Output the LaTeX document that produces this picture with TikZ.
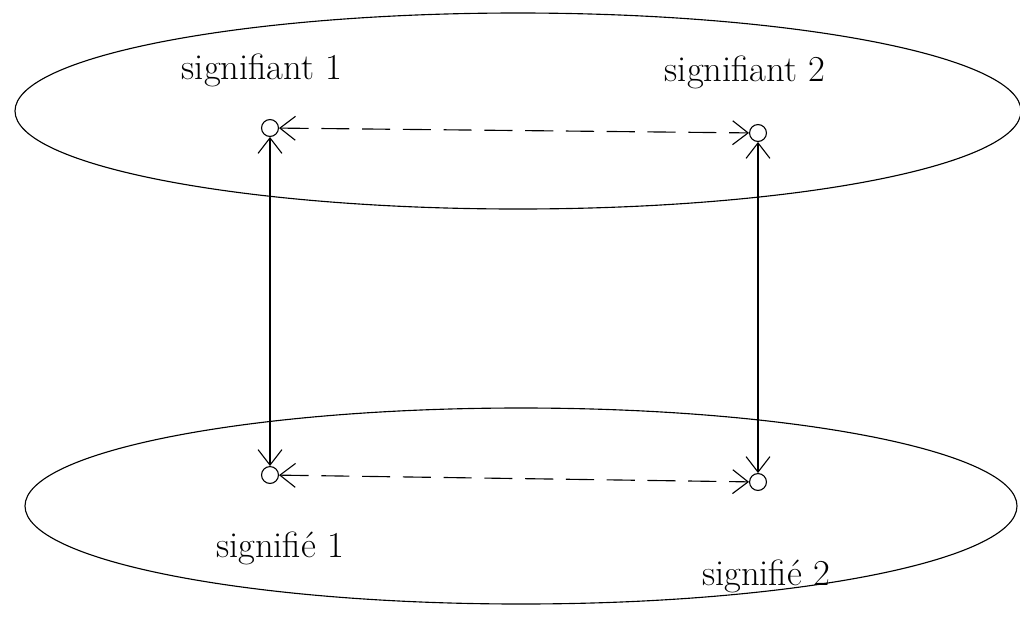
\documentclass[tikz,border=0pt]{standalone}
\usepackage{tikz}
\usetikzlibrary{arrows.meta}

\tikzset{
  pointe/.style={circle, draw, thick, inner sep=0pt, minimum size=12pt},
  lien/.style={thick, {Straight Barb[length=11pt, width=17pt]}-{Straight Barb[length=11pt, width=17pt]}},
  rotulo/.style={font=\fontsize{26}{30}\selectfont}
}

\begin{document}
\begin{tikzpicture}[x=0.025cm, y=-0.025cm]
  \useasboundingbox (0,0) rectangle (1020,633);
  % ellipses
  \draw[thick] (518,111) ellipse [x radius=503, y radius=98];
  \draw[thick] (521,506) ellipse [x radius=496, y radius=98];
  % points
  \node[pointe] (sa1) at (270,128) {};
  \node[pointe] (sa2) at (758,133) {};
  \node[pointe] (se1) at (270,475) {};
  \node[pointe] (se2) at (758,482) {};
  % textes
  \node[rotulo] (tsa1) at (262,70) {signifiant 1};
  \node[rotulo] (tsa2) at (745,72) {signifiant 2};
  \node[rotulo] (tse1) at (280,548) {signifié 1};
  \node[rotulo] (tse2) at (766,576) {signifié 2};
  % liens
  \draw[lien, dash pattern=on 20pt off 9pt] (sa1) -- (sa2);
  \draw[lien, dash pattern=on 20pt off 9pt] (se1) -- (se2);
  \draw[lien] (sa1) -- (se1);
  \draw[lien] (sa2) -- (se2);
\end{tikzpicture}
\end{document}
